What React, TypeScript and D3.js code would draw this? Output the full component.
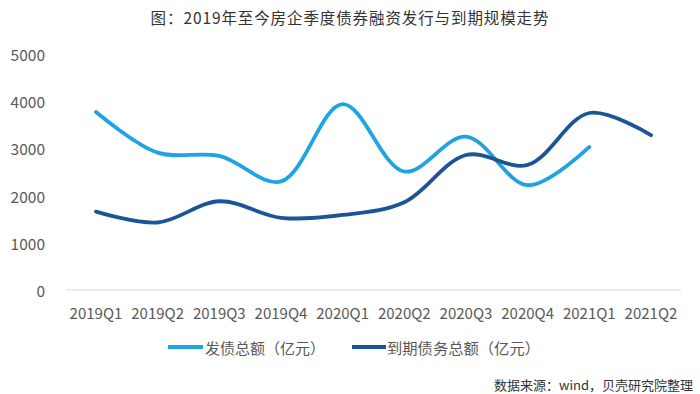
import React from "react";
import * as d3 from "d3";

const categories = ["2019Q1","2019Q2","2019Q3","2019Q4","2020Q1","2020Q2","2020Q3","2020Q4","2021Q1","2021Q2"];
const issuance: (number | null)[] = [3770, 2910, 2840, 2300, 3940, 2510, 3250, 2220, 3030, null];
const maturity: number[] = [1660, 1430, 1880, 1530, 1590, 1860, 2860, 2650, 3750, 3280];
const yTicks = [0, 1000, 2000, 3000, 4000, 5000];
const seriesNames = ["发债总额（亿元）", "到期债务总额（亿元）"];
const colors = ["#1fa3e3", "#1c5597"];

const FONT = "'Noto Sans CJK SC', 'Noto Sans', sans-serif";

export default function App() {
  const W = 700, H = 394;
  const x = d3.scalePoint<string>().domain(categories).range([96, 651]);
  const y = d3.scaleLinear().domain([0, 5000]).range([290, 54]);
  const line = d3.line<[string, number | null]>()
    .defined(d => d[1] !== null)
    .x(d => x(d[0]) as number)
    .y(d => y(d[1] as number))
    .curve(d3.curveCatmullRom.alpha(0.5));
  const s1 = categories.map((c, i) => [c, issuance[i]] as [string, number | null]);
  const s2 = categories.map((c, i) => [c, maturity[i]] as [string, number | null]);

  return (
    <svg width={W} height={H} style={{ position: "absolute", left: 0, top: 0, background: "#fff" }} fontFamily={FONT}>
      <text x={350} y={17} textAnchor="middle" dominantBaseline="central" fontSize={15.5} letterSpacing={0.9} fill="#333">
        图：2019年至今房企季度债券融资发行与到期规模走势
      </text>
      {yTicks.map(t => (
        <text key={t} x={45} y={y(t)} textAnchor="end" dominantBaseline="central" fontSize={15.5} fill="#595959">{t}</text>
      ))}
      <line x1={66} x2={681} y1={y(0)} y2={y(0)} stroke="#d9d9d9" strokeWidth={1.2} />
      {categories.map(c => (
        <text key={c} x={x(c)} y={312} textAnchor="middle" dominantBaseline="central" fontSize={15} fill="#595959">{c}</text>
      ))}
      <path d={line(s1) || ""} fill="none" stroke={colors[0]} strokeWidth={3.8} strokeLinecap="round" />
      <path d={line(s2) || ""} fill="none" stroke={colors[1]} strokeWidth={3.8} strokeLinecap="round" />
      <line x1={168} x2={203} y1={347} y2={347} stroke={colors[0]} strokeWidth={3.8} />
      <text x={205} y={347} dominantBaseline="central" fontSize={15} fill="#595959">{seriesNames[0]}</text>
      <line x1={352} x2={386} y1={347} y2={347} stroke={colors[1]} strokeWidth={3.8} />
      <text x={387} y={347} dominantBaseline="central" fontSize={15.3} fill="#595959">{seriesNames[1]}</text>
      <text x={693} y={384} textAnchor="end" dominantBaseline="central" fontSize={13} fill="#333">数据来源：wind，贝壳研究院整理</text>
    </svg>
  );
}
